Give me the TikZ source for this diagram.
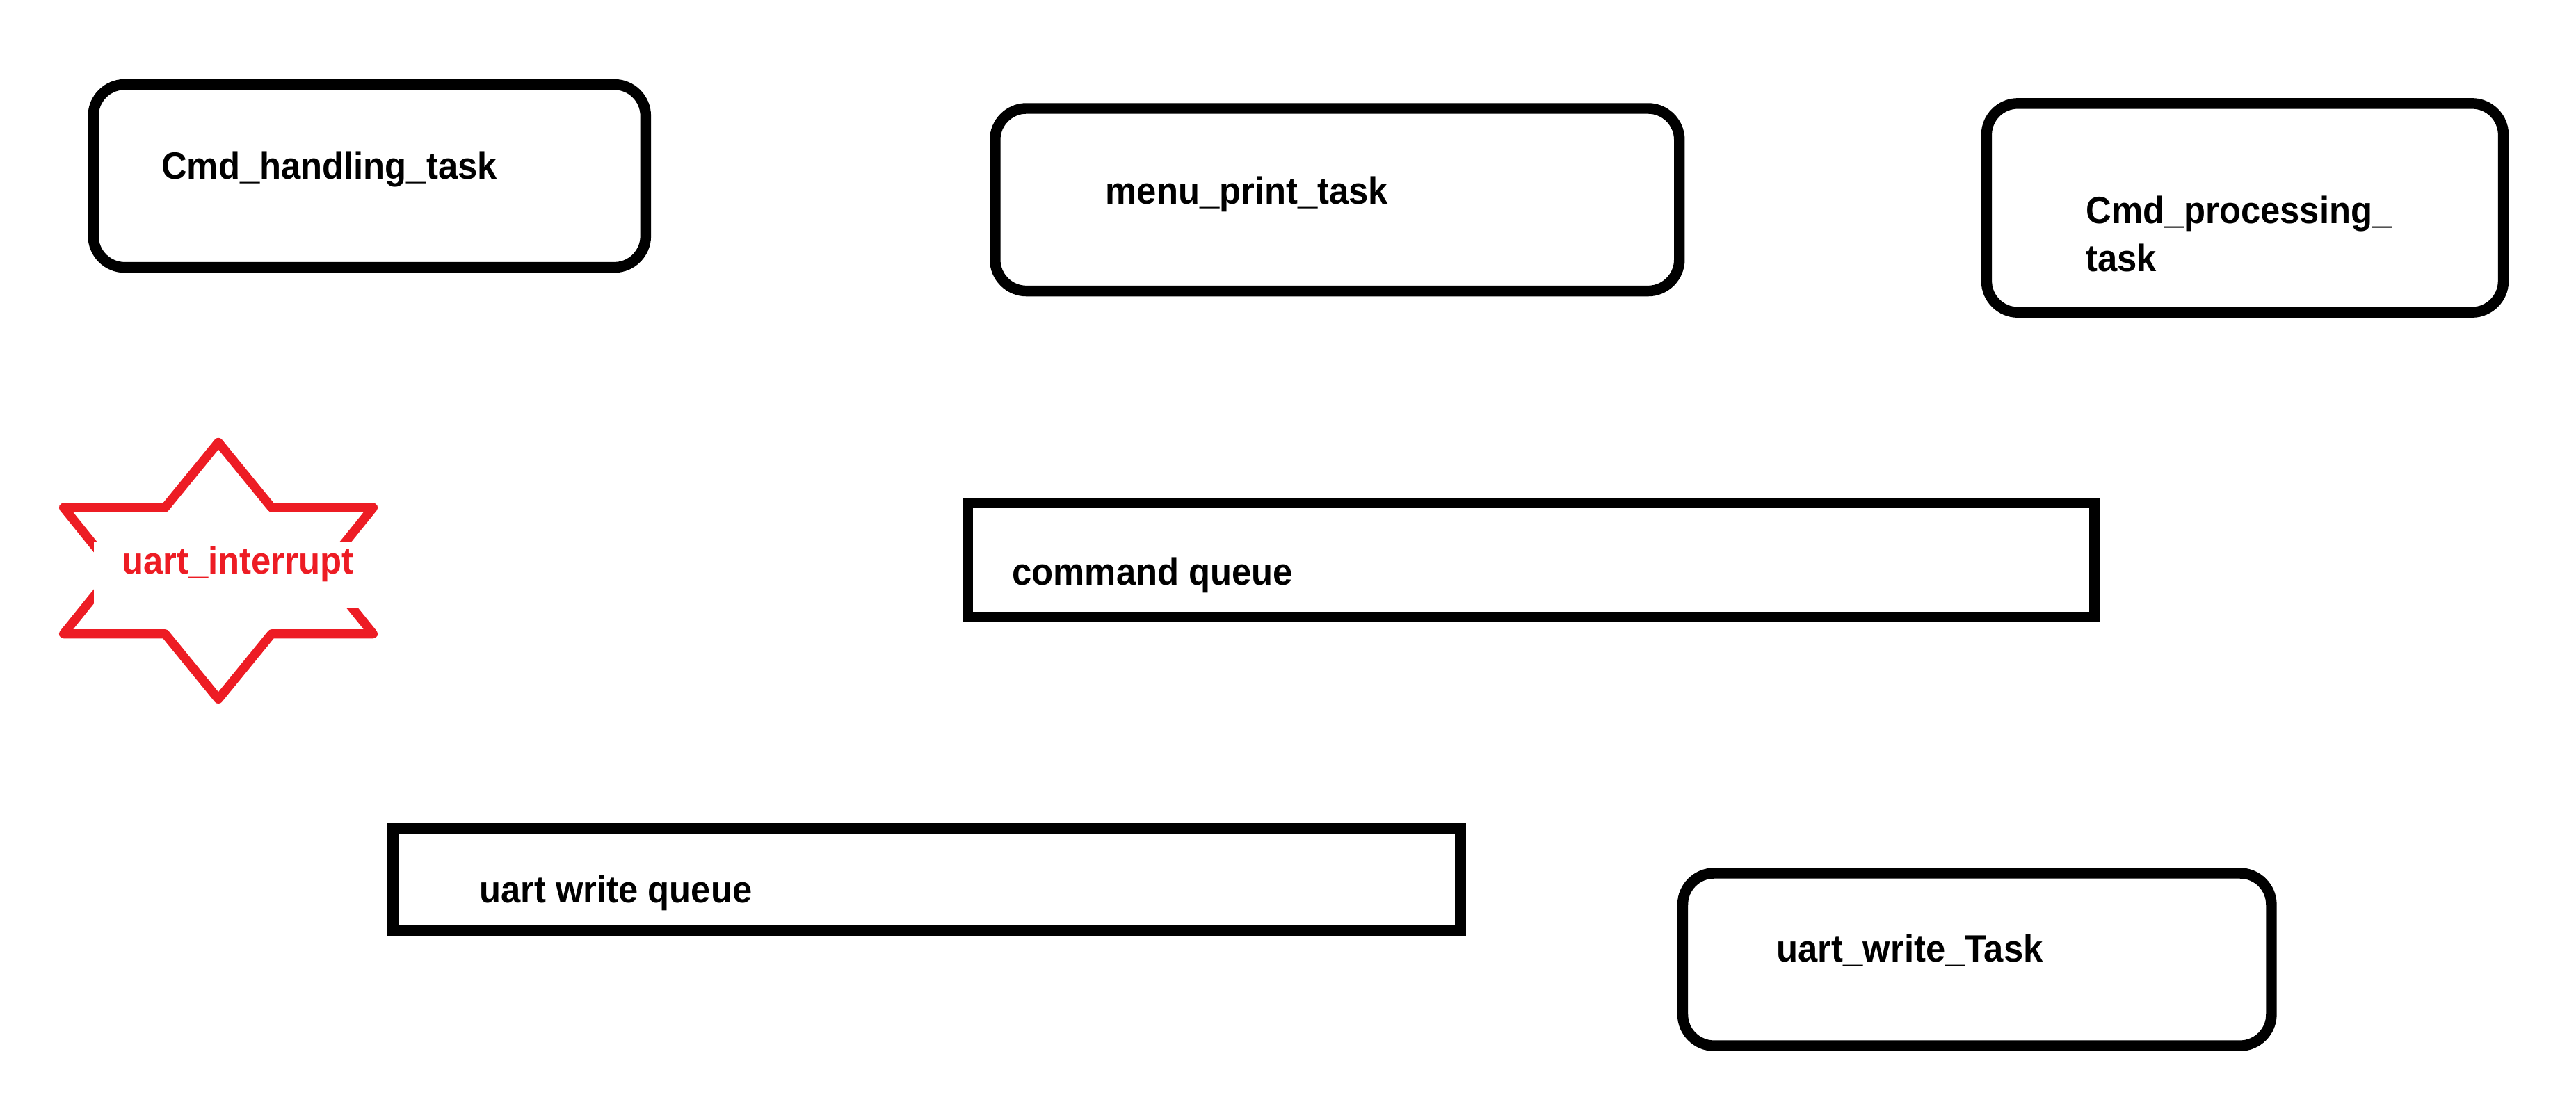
\documentclass[tikz,border=0pt]{standalone}
\usepackage{fontspec}
\setmainfont{Liberation Sans}
\newfontfamily\lblfont[FakeStretch=0.93]{Liberation Sans Bold}
\definecolor{paintred}{RGB}{237,28,36}
\begin{document}
\begin{tikzpicture}[x=1pt,y=1pt,
  lbl/.style={font=\lblfont\fontsize{23}{29}\selectfont, anchor=base west, inner sep=0pt, align=left},
  taskbox/.style={draw=black, line width=6.5pt, rounded corners=19pt},
  queuebox/.style={draw=black, line width=6.5pt},
  starline/.style={draw=paintred, line width=5.5pt, line join=round}
]
\useasboundingbox[fill=white] (0,0) rectangle (1560,663);
% task boxes
\draw[taskbox] (56.5,611.8) rectangle (391,501);
\node[lbl] (cht) at (97.6,554.5) {Cmd\_handling\_task};
\draw[taskbox] (602.6,597.3) rectangle (1017,486.7);
\node[lbl] (mpt) at (669.3,539.5) {menu\_print\_task};
\draw[taskbox] (1203,600.3) rectangle (1516,473.8);
\node[lbl] (cpt) at (1263,527.5) {Cmd\_processing\_};
\node[lbl] (cpt2) at (1263,498.5) {task};
\draw[taskbox] (1019,134) rectangle (1375.5,29.5);
\node[lbl] (uwt) at (1075.7,80.5) {uart\_write\_Task};
% queues
\draw[queuebox] (586.1,358.2) rectangle (1268.6,289.3);
\node[lbl] (cq) at (612.8,308.5) {command queue};
\draw[queuebox] (238,161) rectangle (884.5,99.3);
\node[lbl] (uwq) at (290,116) {uart write queue};
% star
\draw[starline] (132.25,395) -- (164.5,355.5) -- (226,355.5) -- (195.1,317.25) -- (226,279) -- (164.5,279)
  -- (132.25,239.5) -- (100,279) -- (38.5,279) -- (69.4,317.25) -- (38.5,355.5) -- (100,355.5) -- cycle;
\fill[white] (57,335) rectangle (220,295);
\node[lbl, text=paintred] (ui) at (73.7,315.5) {uart\_interrupt};
\end{tikzpicture}
\end{document}
